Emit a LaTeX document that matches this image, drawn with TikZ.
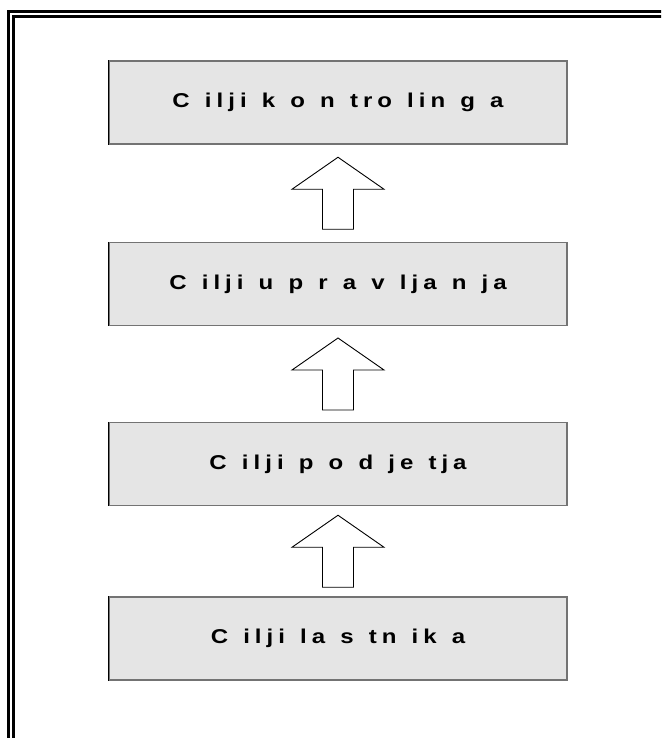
\documentclass[tikz,border=0pt]{standalone}
\usepackage{fontspec}
\setmainfont{Liberation Sans}
\newfontfamily\boxfont[LetterSpace=25, FakeStretch=1.2, WordSpace=1.3]{Liberation Sans}
\usetikzlibrary{calc}

\tikzset{
  levelbox/.style={rectangle, draw=black!55, line width=1.2pt, fill=black!10,
    minimum width=458pt, minimum height=83pt, inner sep=0pt,
    font=\boxfont\bfseries\fontsize{20pt}{24pt}\selectfont},
  blockarrow/.style={draw=black, line width=0.9pt, fill=white, line join=miter},
  frameline/.style={draw=black, line width=3pt}
}

\begin{document}
\begin{tikzpicture}[x=1pt, y=-1pt]
  \useasboundingbox (0,0) rectangle (661,738);
  \clip (0,0) rectangle (661,738);

  % double frame (only its top and left sides fall inside the page)
  \draw[frameline] (8.5,11.5) rectangle (700,800);
  \draw[frameline, line width=2.6pt] (13.5,16.5) rectangle (700,800);

  % the four levels of goals
  \node[levelbox] (b1) at (338,102.5) {C ilji k o n tro lin g a};
  \node[levelbox] (b2) at (338,284)   {C ilji u p r a v lja n ja};
  \node[levelbox] (b3) at (338,464)   {C ilji p o d je tja};
  \node[levelbox] (b4) at (338,638.5) {C ilji la s tn ik a};

  % darker left edge of every box
  \foreach \b in {b1,b2,b3,b4}
    \draw[black, line width=1.4pt] (\b.north west) -- (\b.south west);

  % hollow block arrows pointing upwards from each level to the next
  \foreach \lo/\hi in {b2/b1, b3/b2, b4/b3} {
    \coordinate (m) at ($(\lo.north)!0.5!(\hi.south)$);
    \draw[blockarrow] ($(m)+(0,-36)$) -- ($(m)+(46,-4)$) -- ($(m)+(15.5,-4)$)
      -- ($(m)+(15.5,36)$) -- ($(m)+(-15.5,36)$) -- ($(m)+(-15.5,-4)$)
      -- ($(m)+(-46,-4)$) -- cycle;
  }
\end{tikzpicture}
\end{document}
